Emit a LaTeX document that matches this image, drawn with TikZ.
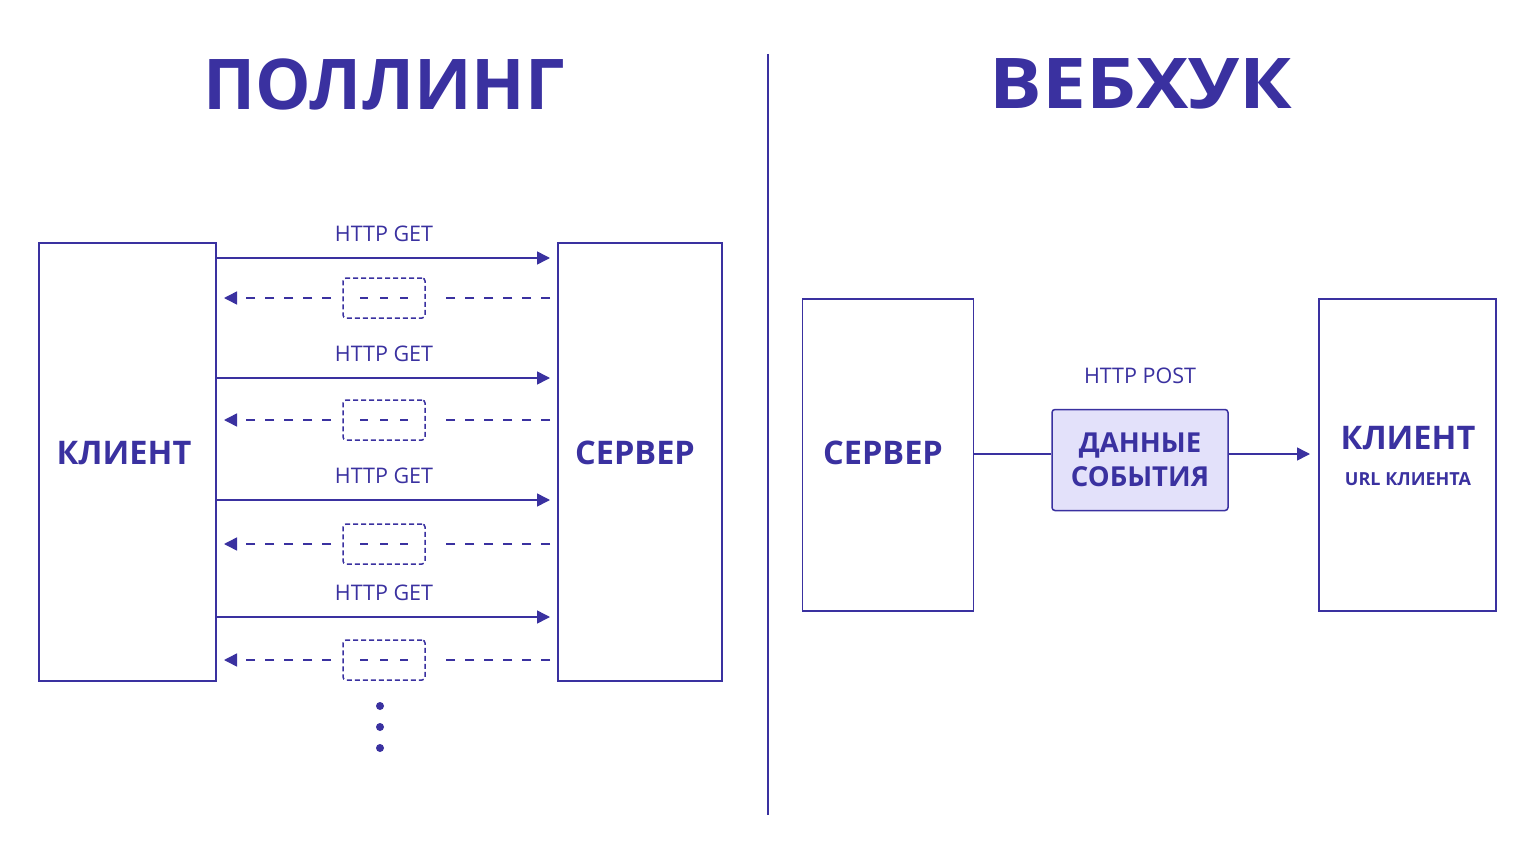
\documentclass[tikz,border=0pt]{standalone}
\usepackage{fontspec}
\setmainfont{Open Sans}
\usetikzlibrary{arrows.meta}
\definecolor{ink}{HTML}{3A31A0}
\definecolor{fillb}{HTML}{E3E1FA}
\begin{document}
\begin{tikzpicture}[x=1pt,y=-1pt,
  box/.style={draw=ink,line width=1.5pt,inner sep=0pt},
  big/.style={text=ink,font=\fontsize{32.5}{36}\selectfont\bfseries},
  lbl/.style={text=ink,font=\fontsize{21.5}{24}\selectfont},
  req/.style={draw=ink,line width=1.5pt,-{Triangle[length=13pt,width=13pt]}},
  resp/.style={draw=ink,line width=1.5pt,dash pattern=on 9pt off 10pt},
  dbox/.style={draw=ink,line width=1.5pt,dash pattern=on 5pt off 3pt,rounded corners=3pt,minimum width=82pt,minimum height=40pt}]
\useasboundingbox[fill=white] (0,0) rectangle (1536,864);
\node[text=ink,font=\fontsize{70}{72}\selectfont\bfseries] (t1) at (384,84) {ПОЛЛИНГ};
\node[text=ink,font=\fontsize{70}{72}\selectfont\bfseries,xscale=1.12] (t2) at (1141,84) {ВЕБХУК};
\coordinate (d1) at (768,54); \coordinate (d2) at (768,815);
\draw[ink,line width=1.5pt] (d1) -- (d2);
% polling
\node[box,minimum width=177pt,minimum height=438pt] (cl) at (127.5,462) {};
\node[big] at (124,453) {КЛИЕНТ};
\node[box,minimum width=164pt,minimum height=438pt] (sv) at (640,462) {};
\node[big] at (635,453) {СЕРВЕР};
\foreach \i/\y/\r in {1/258/298,2/378/420,3/500/544,4/617/660}{
  \coordinate (a\i) at (217,\y); \coordinate (b\i) at (550,\y);
  \draw[req] (a\i) -- (b\i);
  \node[lbl] (h\i) at (384,\y-24) {HTTP GET};
  \node[dbox] (k\i) at (384,\r) {};
  \coordinate (c\i) at (550,\r); \coordinate (e\i) at (224,\r);
  \coordinate (ke\i) at (439,\r); \coordinate (kw\i) at (331,\r);
  \draw[resp] (c\i) -- (ke\i);
  \draw[resp,-{Triangle[length=13pt,width=13pt]}] (kw\i) -- (e\i);
  \coordinate (m\i) at (360,\r); \coordinate (n\i) at (410,\r);
  \draw[ink,line width=1.5pt,dash pattern=on 8pt off 12pt] (m\i) -- (n\i);
}
\foreach \y [count=\j] in {706,727,748}{\fill[ink] (380,\y) circle (4pt) coordinate (dot\j);}
% webhook
\node[box,minimum width=171pt,minimum height=312pt] (sv2) at (888,455) {};
\node[big] at (883,453) {СЕРВЕР};
\node[box,minimum width=177pt,minimum height=312pt] (cl2) at (1407.5,455) {};
\node[big] at (1408,438) {КЛИЕНТ};
\node[text=ink,font=\fontsize{18}{20}\selectfont\bfseries] at (1408,479) {URL КЛИЕНТА};
\node[draw=ink,fill=fillb,line width=1.5pt,rounded corners=3pt,minimum width=176pt,minimum height=101pt,align=center,text=ink,font=\fontsize{27.5}{34}\selectfont\bfseries] (ev) at (1140,460) {ДАННЫЕ\\СОБЫТИЯ};
\node[lbl] at (1140,376) {HTTP POST};
\draw[ink,line width=1.5pt] (sv2.east |- 0,454) -- (ev.west |- 0,454);
\coordinate (cin) at (1310,454);
\draw[req] (ev.east |- 0,454) -- (cin);
\end{tikzpicture}
\end{document}
